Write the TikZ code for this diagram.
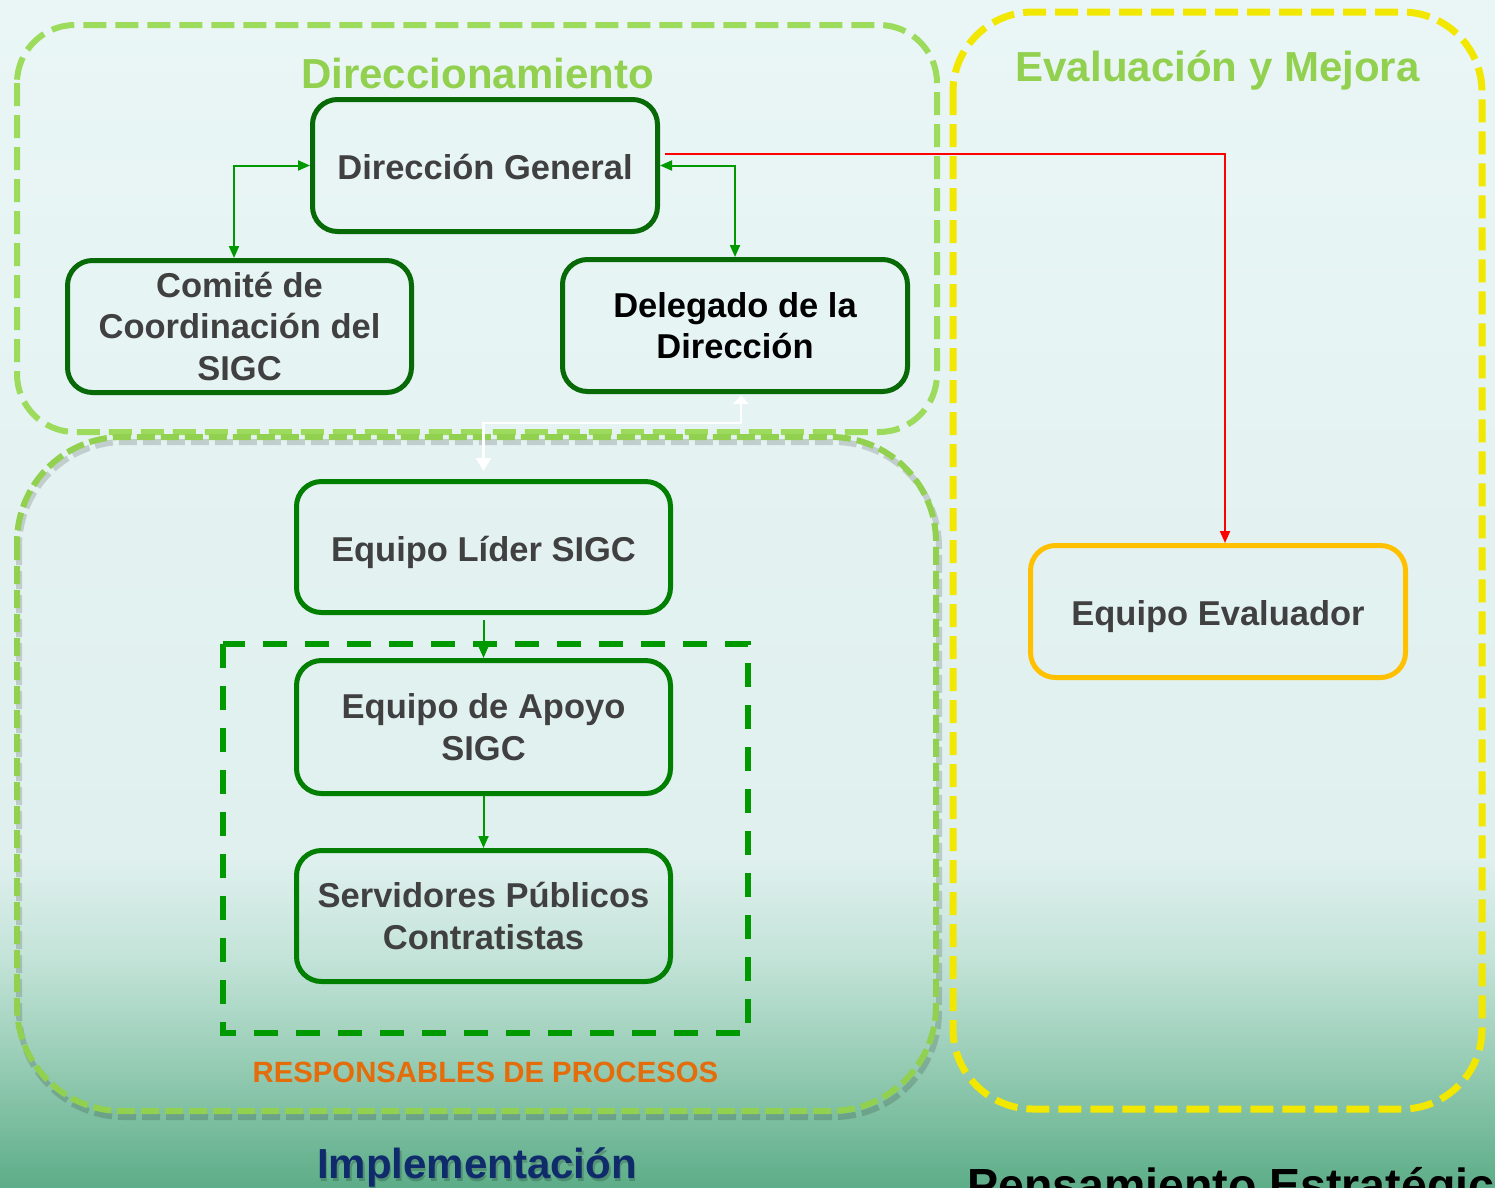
\documentclass[tikz,border=0pt]{standalone}
\usepackage{fontspec}
\setmainfont{Liberation Sans}
\usetikzlibrary{arrows.meta}
\definecolor{bgA}{HTML}{EAF6F6}
\definecolor{bgB}{HTML}{DFF0EE}
\definecolor{bgC}{HTML}{C3E3D8}
\definecolor{bgD}{HTML}{98CDB6}
\definecolor{bgE}{HTML}{5DAD88}
\definecolor{dkgreen}{HTML}{076A07}
\definecolor{mdgreen}{HTML}{007F00}
\definecolor{argreen}{HTML}{009900}
\definecolor{ltgreen}{HTML}{9CDB5B}
\definecolor{ttgreen}{HTML}{92D050}
\definecolor{ylw}{HTML}{F2E700}
\definecolor{orng}{HTML}{FFC000}
\definecolor{txtgray}{HTML}{404040}
\definecolor{respor}{HTML}{E46C0A}
\definecolor{impblue}{HTML}{0F2B6B}
\newcommand{\mybf}{\fontsize{34.5}{41.5}\selectfont\bfseries}
\newcommand{\mytitle}{\fontsize{42}{50}\selectfont\bfseries}
\begin{document}
\begin{tikzpicture}[x=1pt,y=-1pt,
  boxA/.style={draw=dkgreen, line width=5pt, rounded corners=25pt, align=center, text=txtgray, font=\mybf, inner sep=0pt, minimum width=345pt, minimum height=132pt},
  boxB/.style={boxA, draw=mdgreen, minimum width=374pt},
  boxC/.style={boxA, draw=orng, minimum width=375pt},
  oneline/.style={text height=28pt, text depth=0pt},
  grp/.style={line width=6pt, dash pattern=on 23pt off 9pt},
  garrow/.style={draw=argreen, line width=2pt},
  titletxt/.style={font=\mytitle, text=ttgreen, inner sep=0pt, anchor=base}
]
\useasboundingbox (0,0) rectangle (1495,1187);
\clip (0,0) rectangle (1495,1187);
% background
\fill[top color=bgA, bottom color=bgB] (0,0) rectangle (1495,860);
\fill[top color=bgB, bottom color=bgC] (0,859) rectangle (1495,960);
\fill[top color=bgC, bottom color=bgD] (0,959) rectangle (1495,1060);
\fill[top color=bgD, bottom color=bgE] (0,1059) rectangle (1495,1187);

% group frames
\draw[grp, draw=ltgreen] (17,25) [rounded corners=58pt] rectangle (937,432);
\draw[grp, draw=black, opacity=0.15, dash pattern=on 18pt off 6pt] (19,442) [rounded corners=105pt] rectangle (939,1117);
\draw[grp, draw=ttgreen, dash pattern=on 18pt off 6pt] (17,437) [rounded corners=105pt] rectangle (936,1111);
\draw[grp, draw=ylw, line width=7pt] (953,12) [rounded corners=80pt] rectangle (1482,1109);
\draw[draw=argreen, line width=5.5pt, dash pattern=on 24pt off 18pt] (223,644) rectangle (748,1033);

% titles
\node[titletxt] (tdir) at (477.5,88) {Direccionamiento};
\node[titletxt] (teval) at (1217.5,81) {Evaluación y Mejora};
\node[titletxt, text=black, opacity=0.18] (timpsh) at (478.5,1181) {Implementación};
\node[titletxt, text=impblue] (timp) at (477,1178) {Implementación};
\node[font=\fontsize{29.3}{34}\selectfont\bfseries, text=respor, inner sep=0pt, anchor=base] (tresp) at (485.5,1082) {RESPONSABLES DE PROCESOS};
\node[font=\fontsize{46.5}{54}\selectfont\bfseries, text=black, inner sep=0pt, anchor=base west] (tpen) at (967,1201) {Pensamiento Estratégico};

% nodes
\node[boxA, oneline] (dg) at (485,165.5) {Dirección General};
\node[boxA, minimum width=344pt, yshift=-1pt] (com) at (239.5,325.5) {Comité de\\Coordinación del\\SIGC};
\node[boxA, text=black] (del) at (735,325.5) {Delegado de la\\Dirección};
\node[boxB, oneline, minimum height=131pt] (lid) at (483.5,547) {Equipo Líder SIGC};
\node[boxB, minimum height=133pt] (apo) at (483.5,727) {Equipo de Apoyo\\SIGC};
\node[boxB, minimum height=131pt] (ser) at (483.5,916) {Servidores Públicos\\Contratistas};
\node[boxC, oneline] (eva) at (1218,611.5) {Equipo Evaluador};

% connectors
\coordinate (wy) at (0,423);
\draw[garrow, {Triangle[length=12pt,width=10pt]}-{Triangle[length=12pt,width=10pt]}] (dg.west) -| ([xshift=-5.5pt]com.north);
\draw[garrow, {Triangle[length=12pt,width=10pt]}-{Triangle[length=12pt,width=10pt]}] (dg.east) -| (del.north);
\draw[draw=red, line width=2pt, -{Triangle[length=12pt,width=10pt]}] ([xshift=5pt,yshift=11.5pt]dg.east) -| ([xshift=7pt]eva.north);
\draw[draw=white, line width=2.5pt, {Triangle[length=9pt,width=15pt]}-{Triangle[length=13pt,width=15pt]}, shorten <=1pt, shorten >=8pt] ([xshift=6pt]del.south) -- ([xshift=6pt]del.south |- wy) -| (lid.north);
\draw[garrow, -{Triangle[length=12pt,width=10pt]}, shorten <=5pt] (lid.south) -- (apo.north);
\draw[garrow, -{Triangle[length=12pt,width=10pt]}] (apo.south) -- (ser.north);
\end{tikzpicture}
\end{document}
